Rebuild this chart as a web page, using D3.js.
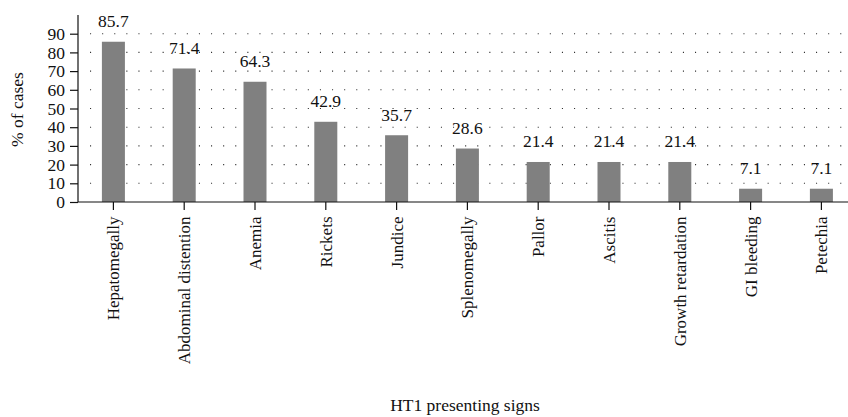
<!DOCTYPE html>
<html>
<head>
<meta charset="utf-8">
<script src="https://cdn.jsdelivr.net/npm/d3@7"></script>
<style>
  html, body { margin: 0; padding: 0; background: #fff; }
  svg { display: block; }
  text { font-family: "Liberation Serif", "Times New Roman", serif; fill: #111; }
</style>
</head>
<body>
<svg id="chart" width="848" height="417"></svg>
<script>
const categories = ["Hepatomegally", "Abdominal distention", "Anemia", "Rickets", "Jundice",
  "Splenomegally", "Pallor", "Ascitis", "Growth retardation", "GI bleeding", "Petechia"];
const values = [85.7, 71.4, 64.3, 42.9, 35.7, 28.6, 21.4, 21.4, 21.4, 7.1, 7.1];
const yTicks = [0, 10, 20, 30, 40, 50, 60, 70, 80, 90];
const yTitle = "% of cases";
const xTitle = "HT1 presenting signs";

(function () {
const svg = d3.select("#chart");
const mLeft = 78, mBottom = 202, mTop = 15, mRight = 848;
const step = 70.8;
const fs = 17;

const x = d3.scaleBand()
  .domain(categories)
  .range([mLeft, mLeft + step * categories.length])
  .paddingInner(0.675)
  .paddingOuter(0.3375);

const y = d3.scaleLinear().domain([0, 100]).range([mBottom, mTop]);

// dotted gridlines
svg.append("g").selectAll("line")
  .data(yTicks.filter(d => d > 0))
  .join("line")
  .attr("x1", mLeft + 12).attr("x2", mRight)
  .attr("y1", d => y(d)).attr("y2", d => y(d))
  .attr("stroke", "#333").attr("stroke-width", 1.1)
  .attr("stroke-dasharray", "1.1,11");

// bars
svg.append("g").selectAll("rect")
  .data(values)
  .join("rect")
  .attr("x", (d, i) => x(categories[i]))
  .attr("width", x.bandwidth())
  .attr("y", d => y(d))
  .attr("height", d => y(0) - y(d))
  .attr("fill", "#808080");

// value labels
svg.append("g").selectAll("text")
  .data(values)
  .join("text")
  .attr("x", (d, i) => x(categories[i]) + x.bandwidth() / 2)
  .attr("y", d => y(d) - 14.5)
  .attr("text-anchor", "middle")
  .attr("font-size", 17.5)
  .text(d => d.toFixed(1));

// y axis
const yAxis = svg.append("g")
  .attr("transform", `translate(${mLeft},0)`)
  .call(d3.axisLeft(y).tickValues(yTicks).tickSize(8).tickPadding(5).tickFormat(d3.format("d")));
yAxis.select(".domain").remove();
yAxis.append("line").attr("x1", 0).attr("x2", 0).attr("y1", mTop).attr("y2", mBottom).attr("stroke", "#111").attr("stroke-width", 1.2);
yAxis.selectAll(".tick line").attr("stroke", "#111").attr("stroke-width", 1.2);
yAxis.selectAll(".tick text").attr("font-size", 17.5).attr("fill", "#111")
  .style("font-family", '"Liberation Serif", serif');

// x axis
const xAxis = svg.append("g")
  .attr("transform", `translate(0,${mBottom})`)
  .call(d3.axisBottom(x).tickSize(8).tickPadding(6));
xAxis.select(".domain").remove();
xAxis.append("line").attr("x1", mLeft).attr("x2", mRight).attr("y1", 0).attr("y2", 0).attr("stroke", "#111").attr("stroke-width", 1.2);
xAxis.selectAll(".tick line").attr("stroke", "#111").attr("stroke-width", 1.2);
xAxis.selectAll(".tick text")
  .attr("font-size", fs).attr("fill", "#111")
  .style("font-family", '"Liberation Serif", serif')
  .attr("text-anchor", "end")
  .attr("transform", "rotate(-90)")
  .attr("x", -14.5).attr("y", 0).attr("dy", "0.35em");

// titles
svg.append("text")
  .attr("transform", `translate(23,${(mTop + mBottom) / 2 + 1}) rotate(-90)`)
  .attr("text-anchor", "middle")
  .attr("font-size", 17.5)
  .text(yTitle);

svg.append("text")
  .attr("x", 465).attr("y", 411)
  .attr("text-anchor", "middle")
  .attr("font-size", 17.5)
  .text(xTitle);
})();
</script>
</body>
</html>
